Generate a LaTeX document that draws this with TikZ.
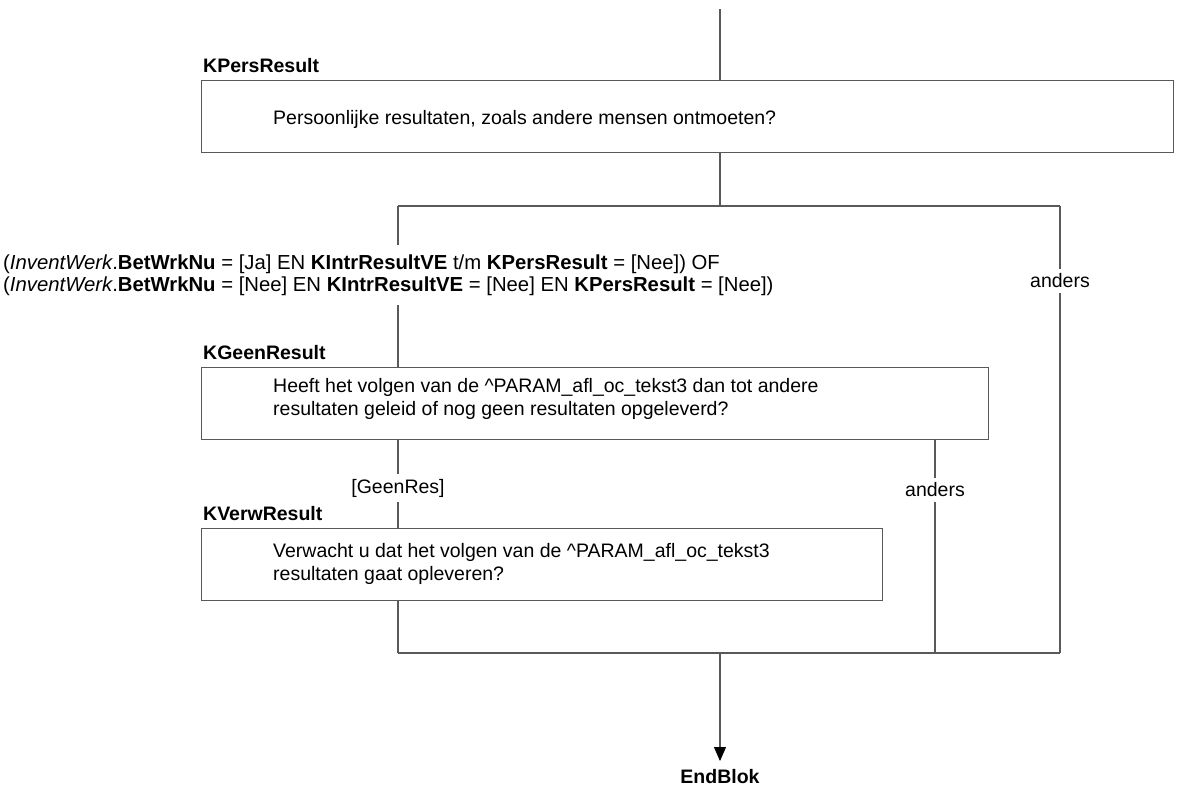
\documentclass[tikz,border=0pt]{standalone}
\usepackage{fontspec}
\setmainfont{Liberation Sans}
\usetikzlibrary{arrows.meta}
\begin{document}
\begin{tikzpicture}[x=1pt,y=-1pt,
  ln/.style={draw=black!65, line width=1.1pt},
  qbox/.style={draw=black!65, line width=1.1pt, anchor=north west, inner sep=0pt, minimum height=72pt},
  txt/.style={font=\fontsize{19.5}{22.5}\selectfont, inner sep=2pt, align=left},
  brl/.style={font=\fontsize{19.5}{22.5}\selectfont, inner xsep=2pt, inner ysep=5pt},
  lbl/.style={font=\fontsize{19.5}{22.5}\selectfont\bfseries, inner sep=0pt, anchor=west}
]
\path[use as bounding box] (0,0) rectangle (1203,787);
% boxes
\node[qbox, minimum width=972pt] (kpers) at (201,80) {};
\node[qbox, minimum width=787pt] (kgeen) at (201,367) {};
\node[qbox, minimum width=681pt] (kverw) at (201,528) {};
% labels
\node[lbl] (lkpers) at (203,66) {KPersResult};
\node[lbl] (lkgeen) at (203,353) {KGeenResult};
\node[lbl] (lkverw) at (203,514) {KVerwResult};
% texts
\node[txt, anchor=west] (tkpers) at (271,119) {Persoonlijke resultaten, zoals andere mensen ontmoeten?};
\node[txt, anchor=west] (tkgeen) at (271,399) {Heeft het volgen van de \^{}PARAM\_afl\_oc\_tekst3 dan tot andere\\resultaten geleid of nog geen resultaten opgeleverd?};
\node[txt, anchor=west] (tkverw) at (271,564) {Verwacht u dat het volgen van de \^{}PARAM\_afl\_oc\_tekst3\\resultaten gaat opleveren?};
% branch labels
\node[font=\fontsize{20.3}{21.5}\selectfont, align=left, anchor=west, inner xsep=0pt, inner ysep=10pt] (cond) at (3,275) {(\textit{InventWerk}.\textbf{BetWrkNu} = [Ja] EN \textbf{KIntrResultVE} t/m \textbf{KPersResult} = [Nee]) OF\\(\textit{InventWerk}.\textbf{BetWrkNu} = [Nee] EN \textbf{KIntrResultVE} = [Nee] EN \textbf{KPersResult} = [Nee])};
\node[brl] (anders1) at (1060,281) {anders};
\node[brl] (geenres) at (398,488) {[GeenRes]};
\node[brl] (anders2) at (935,490) {anders};
\node[lbl, anchor=center] (endblok) at (720,777) {EndBlok};
% coordinates
\coordinate (top) at (720,9);
\coordinate (split1) at (720,206);
\coordinate (l1) at (398,206);
\coordinate (r1) at (1060,206);
\coordinate (join) at (720,653);
\coordinate (jl) at (398,653);
\coordinate (jr) at (1060,653);
\coordinate (ir) at (935,653);
\coordinate (arrowend) at (720,761);
% connectors
\draw[ln] (top) -- (top |- kpers.north);
\draw[ln] (split1 |- kpers.south) -- (split1);
\draw[ln] (l1) -- (r1);
\draw[ln] (l1) -- (l1 |- cond.north);
\draw[ln] (l1 |- cond.south) -- (l1 |- kgeen.north);
\draw[ln] (r1) -- (anders1.north);
\draw[ln] (anders1.south) -- (jr);
\draw[ln] (l1 |- kgeen.south) -- (geenres.north);
\draw[ln] (geenres.south) -- (l1 |- kverw.north);
\draw[ln] (ir |- kgeen.south) -- (anders2.north);
\draw[ln] (anders2.south) -- (ir);
\draw[ln] (l1 |- kverw.south) -- (jl);
\draw[ln] (jl) -- (jr);
\draw[ln, -{Triangle[length=14pt,width=12pt,black]}] (join) -- (arrowend);
\end{tikzpicture}
\end{document}
